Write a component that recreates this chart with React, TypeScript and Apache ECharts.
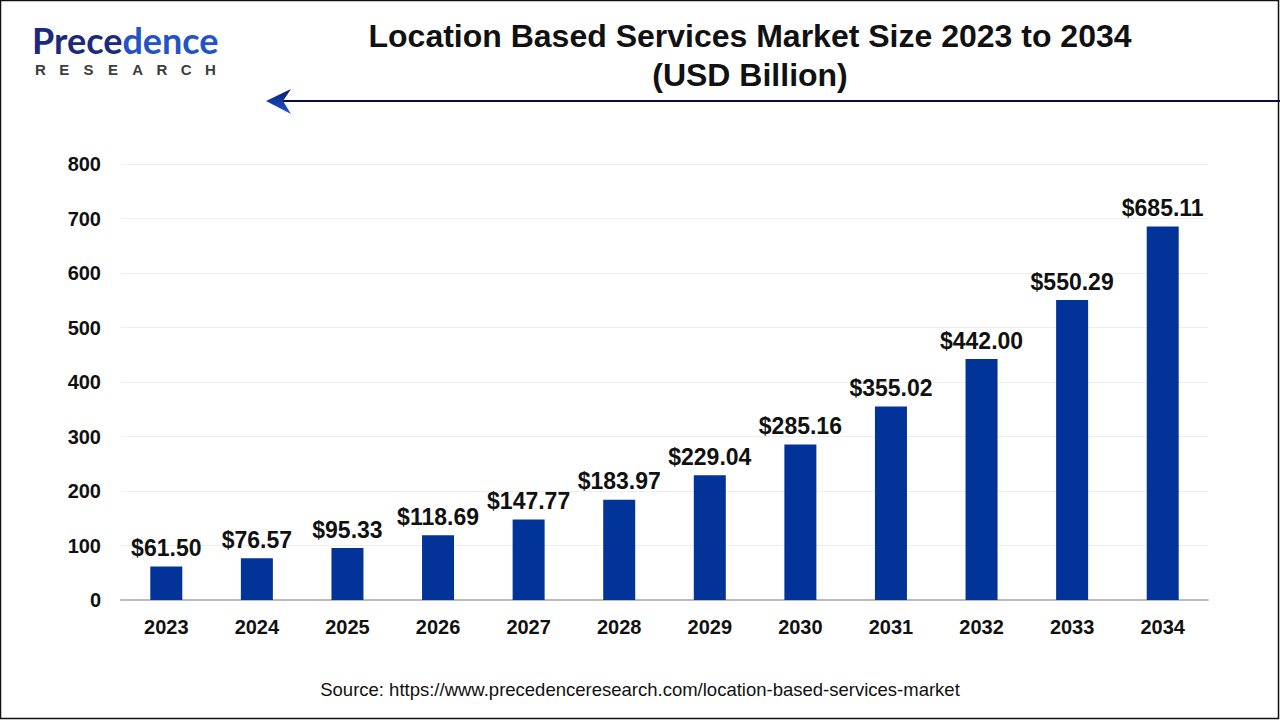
import React, { useEffect, useRef } from "react";
import * as echarts from "echarts";

const categories = ["2023", "2024", "2025", "2026", "2027", "2028", "2029", "2030", "2031", "2032", "2033", "2034"];
const values = [61.5, 76.57, 95.33, 118.69, 147.77, 183.97, 229.04, 285.16, 355.02, 442.0, 550.29, 685.11];
const titleLines = ["Location Based Services Market Size 2023 to 2034", "(USD Billion)"];
const sourceText = "Source: https://www.precedenceresearch.com/location-based-services-market";
const logoSub = ["R", "E", "S", "E", "A", "R", "C", "H"];

export default function App() {
  const ref = useRef<HTMLDivElement>(null);
  useEffect(() => {
    document.body.style.margin = "0";
    const chart = echarts.init(ref.current!, null, { renderer: "svg" });
    const font = "Liberation Sans, Arial, sans-serif";
    const subLetters = logoSub.map((ch, i) => ({
      type: "text",
      x: 35 + i * 24.3,
      y: 62,
      style: { text: ch, fontFamily: font, fontWeight: "bold", fontSize: 15, fill: "#3d3d3d" },
    }));
    chart.setOption({
      animation: false,
      backgroundColor: "#ffffff",
      title: {
        text: titleLines.join("\n"),
        left: 745,
        top: 11,
        textAlign: "center",
        textStyle: { fontFamily: font, fontWeight: "bold", fontSize: 32, lineHeight: 39, color: "#111111" },
      },
      grid: { left: 121, right: 72, top: 164, bottom: 120, containLabel: false },
      xAxis: {
        type: "category",
        data: categories,
        axisLine: { lineStyle: { color: "#bbbbbb", width: 2 } },
        axisTick: { show: false },
        axisLabel: { fontFamily: font, fontWeight: "bold", fontSize: 20, color: "#111111", margin: 17 },
      },
      yAxis: {
        type: "value",
        min: 0,
        max: 800,
        interval: 100,
        axisLine: { show: false },
        axisTick: { show: false },
        splitLine: { lineStyle: { color: "#eeeeee", width: 1 } },
        axisLabel: { fontFamily: font, fontWeight: "bold", fontSize: 20, color: "#111111", margin: 20 },
      },
      series: [
        {
          type: "bar",
          data: values,
          barWidth: 32,
          itemStyle: { color: "#023399" },
          label: {
            show: true,
            position: "top",
            distance: 7,
            fontFamily: font,
            fontWeight: "bold",
            fontSize: 23,
            color: "#111111",
            formatter: (p: any) => "$" + Number(p.value).toFixed(2),
          },
        },
      ],
      graphic: [
        {
          type: "rect",
          shape: { x: 0.5, y: 0.5, width: 1278, height: 718 },
          style: { fill: "none", stroke: "#111111", lineWidth: 1.5 },
          silent: true,
        },
        {
          type: "text",
          x: 32,
          y: 22,
          style: {
            text: "{a|Prece}{b|dence}",
            rich: {
              a: { fontFamily: "Lato, Liberation Sans, sans-serif", fontWeight: "bold", fontSize: 36, fill: "#1b2a7e" },
              b: { fontFamily: "Lato, Liberation Sans, sans-serif", fontWeight: "bold", fontSize: 36, fill: "#2453c8" },
            },
          },
        },
        ...subLetters,
        {
          type: "line",
          shape: { x1: 278, y1: 101, x2: 1280, y2: 101 },
          style: { stroke: "#0a0a45", lineWidth: 2 },
        },
        {
          type: "polygon",
          shape: { points: [[266, 101], [291, 89], [283, 101], [291, 114]] },
          style: {
            fill: new echarts.graphic.LinearGradient(0, 0, 0, 1, [
              { offset: 0, color: "#0a1a6e" },
              { offset: 1, color: "#1e5ad6" },
            ]),
          },
        },
        {
          type: "text",
          left: "center",
          top: 680,
          style: { text: sourceText, fontFamily: font, fontSize: 18.5, fill: "#111111" },
        },
      ],
    });
    return () => chart.dispose();
  }, []);
  return <div ref={ref} style={{ position: "fixed", left: 0, top: 0, width: 1280, height: 720 }} />;
}
